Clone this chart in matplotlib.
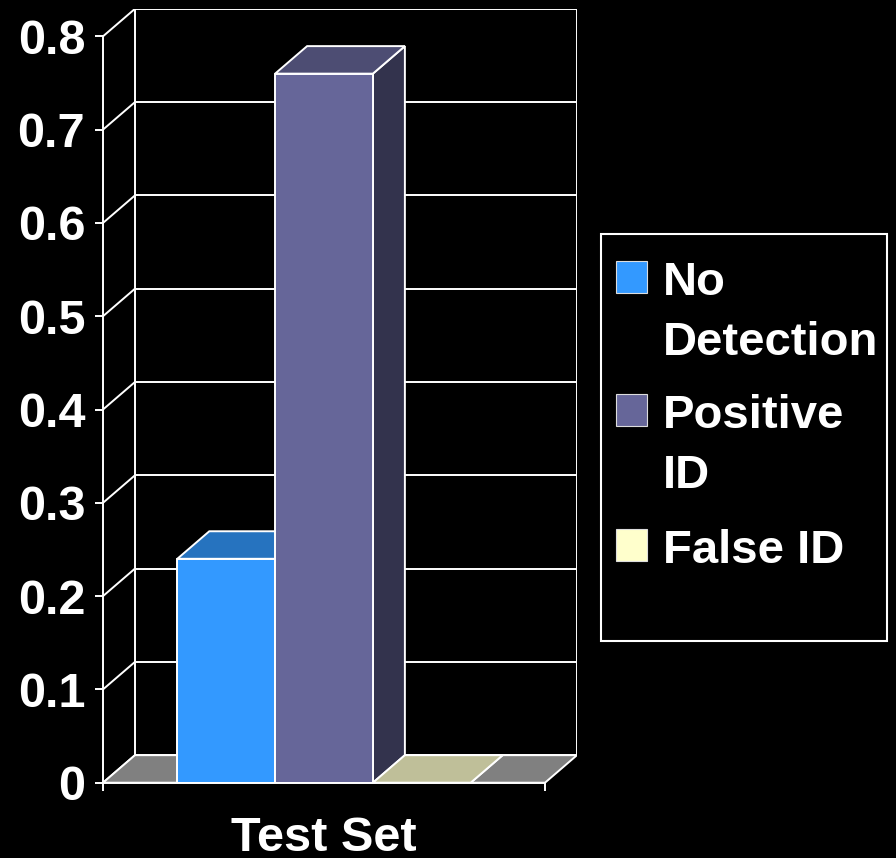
import numpy as np
import matplotlib
matplotlib.use("Agg")
import matplotlib.pyplot as plt
from matplotlib.patches import Polygon, Rectangle

# data
group = "Test Set"
series = ["No\nDetection", "Positive\nID", "False ID"]
values = [0.24, 0.76, 0.0]
colors = ["#3399FF", "#666699", "#FFFFCC"]
yticks = [0, 0.1, 0.2, 0.3, 0.4, 0.5, 0.6, 0.7, 0.8]
ytick_labels = ["0", "0.1", "0.2", "0.3", "0.4", "0.5", "0.6", "0.7", "0.8"]

plt.rcParams['font.family'] = ['Liberation Sans', 'DejaVu Sans']
plt.rcParams['font.weight'] = 'bold'

W, H = 896, 858
fig = plt.figure(figsize=(W / 100, H / 100), dpi=100, facecolor="black")

# fake 3d: bar width 1, gaps on both sides, back wall shifted by (dx, dy)
bw = 1.0
gap = 0.76
width = len(values) * bw + 2 * gap
dx = 0.327
dy = 0.0295
ymax = 0.8

ax = fig.add_axes([103 / W, 75.3 / H, 474 / W, 773.9 / H])
ax.set_facecolor("black")
ax.set_xlim(0, width + dx)
ax.set_ylim(0, ymax + dy)

lw = 1.4
wc = "white"


def shade(c, f):
    r, g, b = matplotlib.colors.to_rgb(c)
    return (r * f, g * f, b * f)


# floor
ax.add_patch(Polygon([(0, 0), (width, 0), (width + dx, dy), (dx, dy)],
                     closed=True, fc="#808080", ec=wc, lw=lw, zorder=1))

# back wall grid + side wall diagonals
for v in yticks:
    ax.plot([dx, width + dx], [v + dy, v + dy], color=wc, lw=lw, zorder=0.5)
    ax.plot([0, dx], [v, v + dy], color=wc, lw=lw, zorder=0.5)
ax.plot([dx, dx], [dy, ymax + dy], color=wc, lw=lw, zorder=0.5)
ax.plot([width + dx, width + dx], [dy, ymax + dy], color=wc, lw=lw, zorder=0.5)

# bars, left to right so each front face covers the previous side face
for i, (v, c) in enumerate(zip(values, colors)):
    x0 = gap + i * bw
    z = 2 + i
    side = [(x0 + bw, 0), (x0 + bw + dx, dy), (x0 + bw + dx, v + dy), (x0 + bw, v)]
    top = [(x0, v), (x0 + bw, v), (x0 + bw + dx, v + dy), (x0 + dx, v + dy)]
    ax.add_patch(Polygon(side, closed=True, fc=shade(c, 0.5), ec=wc, lw=lw, zorder=z))
    ax.add_patch(Polygon(top, closed=True, fc=shade(c, 0.75), ec=wc, lw=lw, zorder=z))
    ax.bar(x0, v, width=bw, align="edge", color=c, edgecolor=wc, linewidth=lw, zorder=z + 0.5)

# axes
for s in ["top", "right"]:
    ax.spines[s].set_visible(False)
for s in ["left", "bottom"]:
    ax.spines[s].set_color(wc)
    ax.spines[s].set_linewidth(lw)
    ax.spines[s].set_zorder(10)
ax.spines["left"].set_bounds(0, ymax)
ax.spines["bottom"].set_bounds(0, width)

ax.set_yticks(yticks)
ax.set_yticklabels(ytick_labels)
ax.tick_params(axis="y", colors=wc, length=5.8, width=lw, pad=7, labelsize=35)
ax.set_xticks([width / 2])
ax.set_xticklabels([group])
ax.tick_params(axis="x", which="major", colors=wc, length=0, pad=24, labelsize=35)
ax.set_xticks([0, width], minor=True)
ax.tick_params(axis="x", which="minor", colors=wc, length=5.8, width=lw)


def fx(px):
    return px / W


def fy(py):
    return 1 - py / H


# legend box
fig.patches.append(Rectangle((fx(601), fy(640.7)), fx(887) - fx(601), fy(234) - fy(640.7),
                             transform=fig.transFigure, fc="black", ec=wc, lw=1.5))
baselines = [295, 428, 563]
for name, c, b in zip(series, colors, baselines):
    fig.patches.append(Rectangle((fx(616), fy(b - 2)), fx(647) - fx(616), fy(260) - fy(292),
                                 transform=fig.transFigure, fc=c, ec="#DDDDDD", lw=0.8))
    for k, line in enumerate(name.split("\n")):
        fig.text(fx(662.7), fy(b + 60 * k), line, color=wc, fontsize=34,
                 fontweight="bold", va="baseline", ha="left")

fig.savefig("out.png", dpi=100, facecolor="black")
